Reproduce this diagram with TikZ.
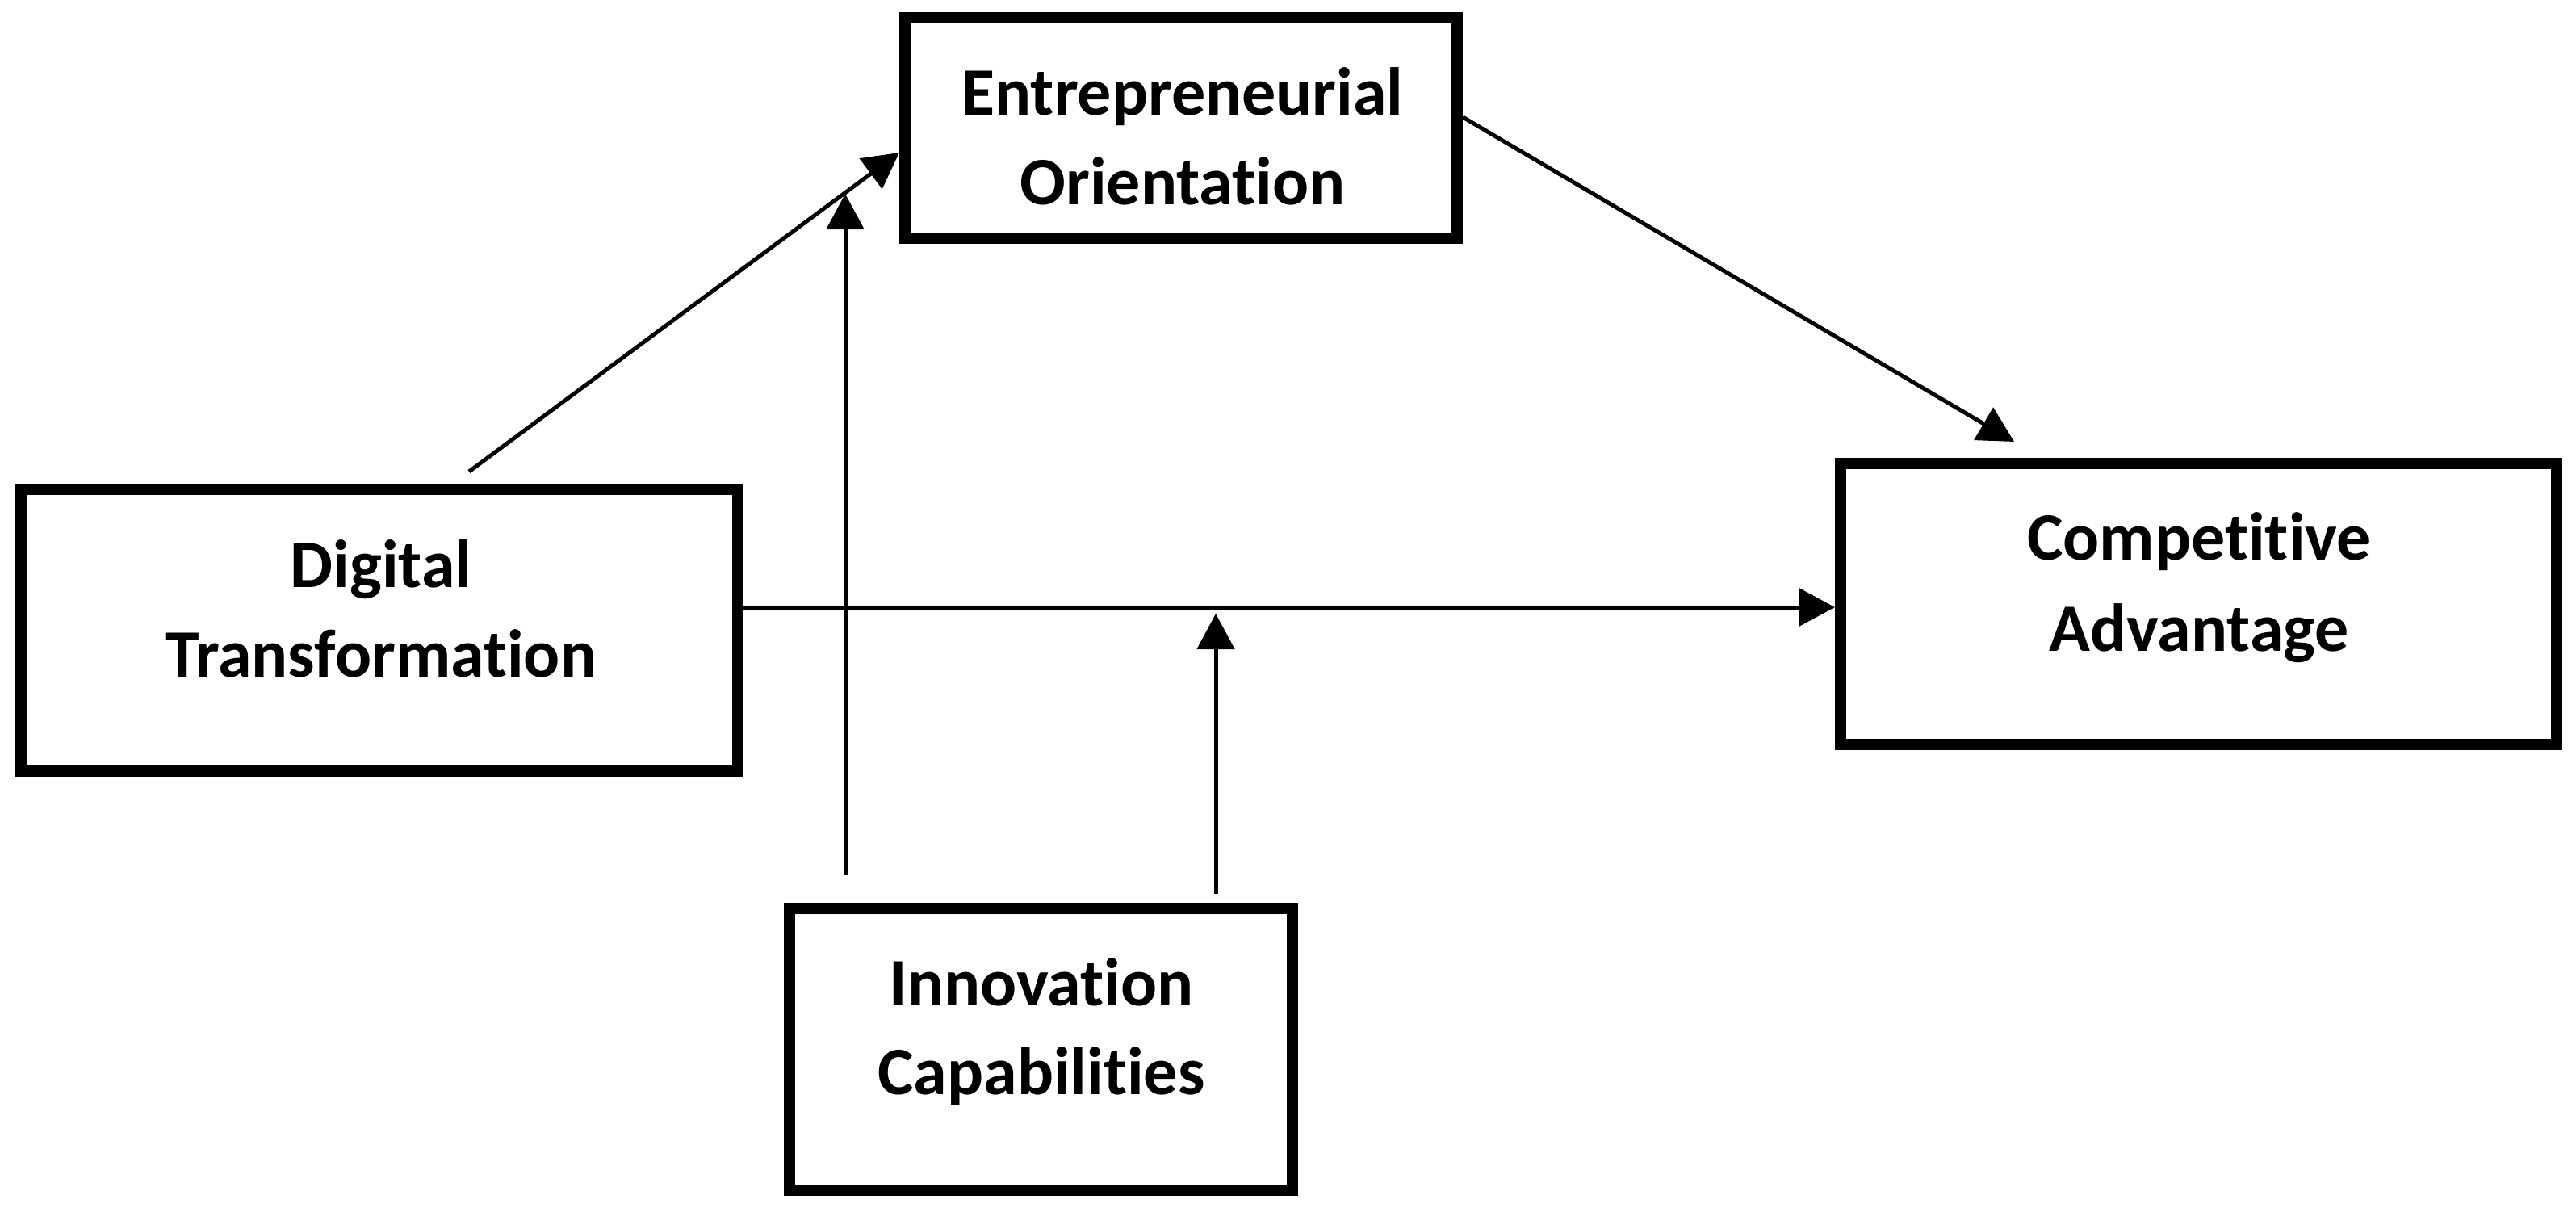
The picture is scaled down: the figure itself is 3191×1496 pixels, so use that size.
\documentclass[tikz,border=0pt]{standalone}
\usepackage{fontspec}
\setmainfont{Carlito}[Ligatures=NoCommon]
\usetikzlibrary{arrows.meta,calc}
\begin{document}
\begin{tikzpicture}[x=1pt,y=-1pt,
  box/.style={draw=black, line width=14pt, inner sep=0pt, fill=white},
  lbl/.style={inner sep=0pt, anchor=base, font=\fontsize{84}{111}\selectfont\bfseries},
  arr/.style={draw=black, line width=5pt, -{Triangle[length=44pt,width=46pt]}}]
\useasboundingbox (0,0) rectangle (3191,1496);
% boxes
\node[box, minimum width=684pt, minimum height=273pt] (eo) at (1463,158.5) {};
\node[box, minimum width=888pt, minimum height=349pt] (dt) at (470,780.5) {};
\node[box, minimum width=887pt, minimum height=348pt] (ca) at (2723.5,748) {};
\node[box, minimum width=623pt, minimum height=349pt] (ic) at (1289.5,1299.5) {};
% labels
\node[lbl] (eo1) at (1465,142) {Entrepreneurial};
\node[lbl] (eo2) at (1465,253) {Orientation};
\node[lbl] (dt1) at (472,727) {Digital};
\node[lbl] (dt2) at (472,838) {Transformation};
\node[lbl] (ca1) at (2724,693) {Competitive};
\node[lbl] (ca2) at (2724,806) {Advantage};
\node[lbl] (ic1) at (1290,1245) {Innovation};
\node[lbl] (ic2) at (1290,1355) {Capabilities};
% connector end points
\coordinate (dtout) at (581,584);
\coordinate (eoin) at ([yshift=-30.5pt]eo.west);
\coordinate (eoout) at ([yshift=13.5pt]eo.east);
\coordinate (cain) at ([xshift=-228.5pt,yshift=20pt]ca.north);
\coordinate (dtca) at ([yshift=28.5pt]dt.east);
\coordinate (icl) at ([xshift=-242.5pt,yshift=34pt]ic.north);
\coordinate (icltip) at (1047,240);
\coordinate (icr) at ([xshift=216.5pt,yshift=11pt]ic.north);
\coordinate (icrtip) at (1506,760);
% connectors
\draw[arr] (dtout) -- (eoin);
\draw[arr] (eoout) -- (cain);
\draw[arr] (dtca) -- (dtca -| ca.west);
\draw[arr] (icl) -- (icltip);
\draw[arr] (icr) -- (icrtip);
\end{tikzpicture}
\end{document}
